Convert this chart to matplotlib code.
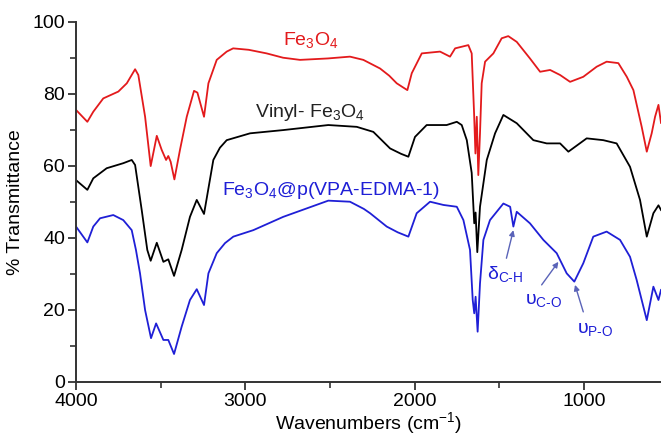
import matplotlib
matplotlib.use('Agg')
import matplotlib.pyplot as plt
from matplotlib.ticker import MultipleLocator

# FTIR spectra (wavenumber in cm-1, % transmittance)
fe3o4_wn = [4000, 3933, 3898, 3839, 3750, 3700, 3651, 3632, 3592, 3559, 3523, 3494,
            3468, 3455, 3441, 3419, 3386, 3346, 3303, 3283, 3244, 3218, 3169, 3110,
            3072, 2980, 2874, 2777, 2677, 2512, 2382, 2303, 2204, 2150, 2106, 2070,
            2043, 2017, 1958, 1850, 1791, 1761, 1683, 1663, 1649, 1641, 1633, 1624,
            1614, 1604, 1584, 1535, 1486, 1447, 1397, 1319, 1259, 1200, 1141, 1082,
            1004, 925, 866, 797, 747, 708, 659, 629, 600, 580, 560, 545]
fe3o4_t = [75.5, 72.2, 75.0, 78.7, 80.6, 82.9, 86.8, 85.2, 73.6, 59.9, 68.3, 64.4,
           61.6, 62.7, 61.1, 56.2, 64.4, 73.6, 80.8, 80.3, 73.6, 82.9, 89.4, 91.7,
           92.6, 92.2, 91.2, 90.0, 89.4, 89.8, 90.3, 89.4, 87.0, 85.0, 82.9, 81.8,
           81.0, 85.7, 91.2, 91.7, 90.3, 92.6, 93.5, 91.2, 74.6, 63.4, 73.6, 57.4,
           69.0, 82.9, 88.9, 91.2, 95.4, 96.0, 94.4, 89.8, 86.1, 86.6, 85.2, 83.3,
           84.7, 87.5, 88.9, 88.5, 84.7, 81.0, 70.8, 63.9, 69.0, 73.6, 76.9, 71.9]

vinyl_wn = [4000, 3933, 3898, 3819, 3721, 3671, 3651, 3612, 3579, 3559, 3523, 3484,
            3455, 3421, 3376, 3327, 3287, 3244, 3189, 3150, 3110, 2972, 2776, 2510,
            2342, 2244, 2145, 2080, 2037, 1998, 1929, 1811, 1751, 1722, 1692, 1663,
            1648, 1640, 1630, 1614, 1574, 1525, 1476, 1397, 1299, 1220, 1141, 1092,
            984, 886, 807, 728, 669, 629, 590, 560, 545]
vinyl_t = [56.0, 53.3, 56.5, 59.3, 60.7, 61.6, 60.2, 47.7, 36.6, 33.6, 38.6, 33.3,
           34.0, 29.4, 36.6, 45.8, 50.5, 46.6, 61.6, 65.0, 67.1, 69.0, 69.9, 71.3,
           70.8, 69.4, 64.8, 63.3, 62.5, 68.0, 71.3, 71.3, 72.2, 71.3, 67.1, 58.0,
           44.0, 47.0, 36.0, 48.6, 61.6, 69.0, 74.1, 71.8, 67.1, 66.2, 66.2, 63.9,
           67.6, 67.1, 66.2, 59.7, 50.5, 40.3, 46.8, 49.0, 47.7]

poly_wn = [4000, 3933, 3898, 3858, 3780, 3721, 3671, 3646, 3622, 3592, 3557, 3527,
           3484, 3455, 3421, 3376, 3327, 3287, 3244, 3218, 3169, 3120, 3071, 2953,
           2776, 2510, 2382, 2300, 2263, 2165, 2100, 2037, 1988, 1909, 1830, 1751,
           1712, 1673, 1657, 1648, 1640, 1628, 1614, 1594, 1555, 1476, 1436, 1417,
           1397, 1319, 1240, 1161, 1141, 1102, 1057, 1004, 945, 866, 787, 728, 689,
           629, 590, 560, 545]
poly_t = [43.1, 38.7, 43.1, 45.4, 46.3, 44.9, 42.1, 36.6, 30.1, 19.9, 12.1, 16.2,
          11.6, 11.6, 7.7, 15.3, 22.7, 25.7, 21.3, 30.1, 35.7, 38.5, 40.3, 42.1,
          45.8, 50.3, 50.0, 48.0, 46.8, 43.1, 41.5, 40.3, 46.8, 50.0, 49.1, 48.6,
          44.9, 36.6, 22.7, 19.0, 23.6, 13.9, 27.3, 39.4, 44.9, 49.5, 48.6, 43.1,
          47.2, 44.0, 39.4, 35.7, 33.8, 30.1, 27.8, 32.9, 40.3, 41.7, 39.4, 34.7,
          28.3, 17.1, 26.4, 22.7, 25.5]

RED = '#e31a1c'
BLUE = '#1f1fd6'
ARROW = '#5a63b8'

plt.rcParams['font.family'] = ['Liberation Sans', 'DejaVu Sans']
plt.rcParams['mathtext.fontset'] = 'custom'
plt.rcParams['mathtext.rm'] = 'Liberation Sans'
plt.rcParams['mathtext.it'] = 'Liberation Sans'

fig = plt.figure(figsize=(6.61, 4.37), dpi=100)
ax = fig.add_axes([0.115, 0.1265, 0.885, 0.8238])

ax.plot(fe3o4_wn, fe3o4_t, color=RED, lw=1.3)
ax.plot(vinyl_wn, vinyl_t, color='black', lw=1.3)
ax.plot(poly_wn, poly_t, color=BLUE, lw=1.3)

# curve labels
ax.text(2777, 93.5, 'Fe$_3$O$_4$', color=RED, fontsize=14, va='baseline')
ax.text(2943, 73.6, 'Vinyl- Fe$_3$O$_4$', color='#222222', fontsize=14, va='baseline')
ax.text(3140, 51.9, 'Fe$_3$O$_4$@p(VPA-EDMA-1)', color=BLUE, fontsize=14, va='baseline')

# band assignments with arrows
bands = [('δ$_{\\mathrm{C\\text{-}H}}$', (1417, 42.1), (1458, 34.3), (1574, 28.5)),
         ('υ$_{\\mathrm{C\\text{-}O}}$', (1151, 33.3), (1250, 26.9), (1348, 21.5)),
         ('υ$_{\\mathrm{P\\text{-}O}}$', (1053, 26.9), (1004, 19.4), (1043, 13.5))]
for label, tip, tail, pos in bands:
    ax.annotate('', xy=tip, xytext=tail,
                arrowprops=dict(arrowstyle='-|>', color=ARROW, lw=1.0,
                                mutation_scale=8, shrinkA=0, shrinkB=0))
    ax.text(pos[0], pos[1], label, color=BLUE, fontsize=14, va='baseline')

ax.set_xlim(4000, 545)
ax.set_ylim(0, 100)
ax.xaxis.set_major_locator(MultipleLocator(1000))
ax.xaxis.set_minor_locator(MultipleLocator(500))
ax.yaxis.set_major_locator(MultipleLocator(20))
ax.yaxis.set_minor_locator(MultipleLocator(10))

for side in ['top', 'right']:
    ax.spines[side].set_visible(False)
for side in ['left', 'bottom']:
    ax.spines[side].set_color('#333333')
    ax.spines[side].set_linewidth(1.4)

ax.tick_params(which='major', direction='out', length=6, width=1.3,
               color='#333333', labelsize=14, pad=2)
ax.tick_params(which='minor', direction='out', length=4, width=1.2, color='#333333')

ax.set_xlabel('Wavenumbers (cm$^{-1}$)', fontsize=14, labelpad=0)
ax.set_ylabel('% Transmittance', fontsize=14, labelpad=6)

fig.savefig('out.png', dpi=100)
